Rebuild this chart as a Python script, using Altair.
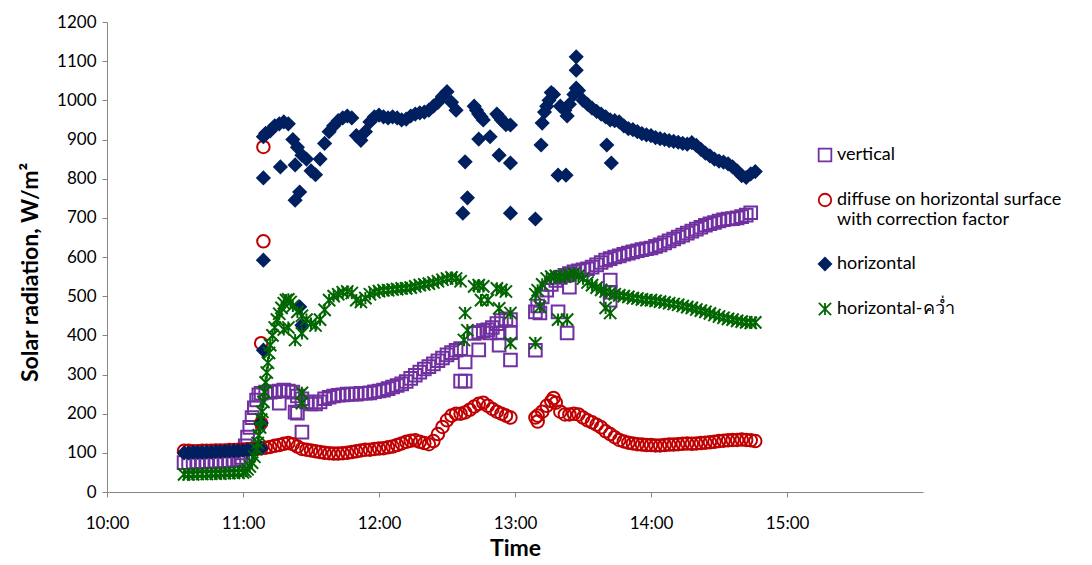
import altair as alt
import pandas as pd

SERIES = ["vertical",
          "diffuse on horizontal surface with correction factor",
          "horizontal",
          "horizontal-คว่ำ"]
COLORS = ["#7030A0", "#C00000", "#002060", "#006600"]
FILLS = ["transparent", "transparent", "#002060", "transparent"]
STAR = "M-1,-1L1,1M-1,1L1,-1M0,-1L0,1"
SHAPES = ["square", "circle", "diamond", STAR]
SIZES = [160, 150, 210, 140]

X_TICKS = [0, 60, 120, 180, 240, 300]          # minutes after 10:00
Y_TICKS = [0, 100, 200, 300, 400, 500, 600, 700, 800, 900, 1000, 1100, 1200]

# ---- vertical (minutes after 10:00, W/m2)
vert_min = (list(range(34, 59, 2)) + list(range(59, 69)) + list(range(70, 157, 2))
            + list(range(162, 179, 2)) + [189, 190] + list(range(192, 285, 2)))
vert_val = [75, 75, 76, 76, 77, 77, 78, 78, 79, 79, 80, 81, 83,
            88, 100, 118, 140, 165, 190, 215, 235, 248, 252,
            255, 255, 256, 258, 260, 258, 255, 245, 238, 230,
            225, 225, 230, 238, 242, 245, 247, 248, 250, 250,
            250, 252, 252, 253, 256, 258, 260, 264, 268, 272,
            276, 282, 290, 298, 306, 314, 320, 327, 335, 342,
            350, 356, 362, 366,
            405, 408, 412, 414, 420, 430, 438, 442, 440,
            460, 475,
            498, 515, 530, 540, 548, 553, 558, 562, 565, 567,
            570, 574, 580, 586, 592, 596, 600, 603, 607, 610,
            613, 616, 619, 621, 623, 627, 631, 636, 641, 646,
            651, 656, 661, 666, 671, 676, 681, 685, 688, 692,
            695, 697, 698, 700, 703, 707, 713]
vert_out_min = [76, 83, 84, 86, 156, 158, 158, 164, 169, 173, 173, 178, 178,
                189, 191, 199, 203, 204, 222, 222, 222]
vert_out_val = [227, 204, 201, 153, 283, 283, 332, 363, 406, 375, 406, 406, 337,
                362, 457, 460, 406, 523, 541, 490, 510]

# ---- diffuse on horizontal surface with correction factor
diff_min = (list(range(34, 67, 2)) + list(range(68, 179, 2)) + [189, 190]
            + list(range(192, 287, 2)))
diff_val = [105, 105, 104, 104, 105, 105, 105, 106, 106, 106, 107, 107, 108, 108, 109, 110, 110,
            112, 113, 115, 118, 120, 123, 125, 122, 116, 110,
            108, 106, 104, 102, 100, 99, 98, 98, 99, 100,
            102, 104, 106, 108, 108, 110, 111, 112, 114, 116,
            120, 124, 128, 131, 132, 128, 125, 122, 130, 148,
            166, 183, 195, 200, 200, 203, 210, 218, 225, 228,
            220, 212, 205, 200, 195, 190,
            190, 195,
            205, 220, 232, 228, 205, 198, 198, 200, 198, 190,
            183, 178, 172, 165, 155, 148, 140, 133, 129, 126,
            124, 122, 121, 120, 120, 119, 119, 120, 121, 121,
            122, 123, 124, 123, 124, 125, 126, 127, 128, 130,
            131, 132, 133, 133, 134, 133, 132, 130]
diff_out_min = [68, 68, 69, 69, 197, 190]
diff_out_val = [176, 380, 640, 881, 240, 180]

# ---- horizontal
hor_min = (list(range(34, 69, 2)) + list(range(70, 155, 2))
           + [162, 163, 164, 165, 166, 172, 173, 174, 175, 176]
           + [189, 191.5, 192, 193, 194, 195, 196, 197, 199, 200, 202, 202.5, 203, 204,
              206, 207, 207, 207, 208]
           + list(range(210, 287, 2)))
hor_val = [100, 100, 101, 101, 101, 102, 102, 103, 103, 104, 104, 105, 105, 106, 107, 108, 110, 112,
           916, 922, 935, 940, 945, 940, 900, 880, 860, 850,
           820, 810, 850, 890, 920, 935, 948, 955, 960, 955,
           910, 898, 920, 945, 958, 962, 958, 955, 958, 955,
           950, 952, 960, 965, 968, 970, 975, 985, 995, 1010,
           1022, 995, 975,
           985, 975, 965, 958, 950, 965, 958, 950, 945, 938,
           697, 886, 942, 970, 985, 1000, 1020, 1015, 809, 985, 975, 809, 960, 990,
           1015, 1031, 1077, 1111, 1025,
           1000, 990, 980, 972, 965, 958, 950, 948, 945, 935,
           928, 925, 920, 915, 912, 910, 905, 902, 900, 897,
           895, 893, 890, 888, 892, 885, 875, 865, 858, 850,
           845, 842, 838, 830, 820, 808, 803, 812, 818]
hor_out_min = [68, 69, 69, 69, 69, 76.5, 83, 83, 85, 85, 86,
               157, 158, 159, 164, 169, 173, 178, 178, 178, 220.5, 222.5]
hor_out_val = [176, 362, 592, 802, 907, 830, 835, 745, 766, 473, 426,
               712, 843, 751, 901, 907, 860, 840, 712, 937, 886, 840]

# ---- horizontal-คว่ำ
inv_min = (list(range(34, 61, 2))
           + [61, 62, 63, 64, 65, 66, 66.5, 67, 67.5, 68, 68.5, 69, 69.5, 70, 70.5, 71, 71.5,
              72, 73, 74, 75, 76, 77, 78, 79, 80, 81, 82]
           + list(range(84, 157, 2))
           + [162, 164, 166, 172, 174, 176]
           + [189, 190] + list(range(192, 287, 2)))
inv_val = [45, 45, 45, 46, 46, 46, 47, 47, 47, 48, 48, 49, 49, 50,
           53, 58, 65, 75, 90, 110, 125, 145, 165, 185, 205, 230, 255, 280, 305, 330, 355,
           375, 400, 420, 440, 455, 470, 482, 490, 492, 485, 475,
           460, 450, 440, 430, 425, 440, 465, 490, 500, 505,
           510, 512, 508, 490, 485, 495, 505, 510, 513, 515,
           515, 517, 518, 520, 520, 522, 525, 528, 530, 532,
           535, 538, 542, 545, 548, 545, 538,
           525, 528, 525, 520, 516, 512,
           505, 515,
           530, 545, 550, 552, 548, 550, 555, 558, 552, 545,
           535, 528, 522, 516, 512, 508, 505, 502, 500, 498,
           495, 494, 492, 490, 490, 488, 486, 484, 482, 480,
           478, 475, 472, 470, 466, 463, 460, 456, 452, 448,
           445, 442, 440, 437, 435, 433, 432, 433]
inv_out_min = [78, 80, 83, 86, 86, 86, 157.5, 158, 159, 165, 168, 173, 178, 178,
               189, 191, 199, 203, 220, 222]
inv_out_val = [415, 420, 388, 405, 253, 227, 388, 457, 413, 490, 490, 469, 457, 380,
               380, 473, 440, 440, 470, 457]

rows = []
for name, mins, vals in [
    (SERIES[0], vert_min + vert_out_min, vert_val + vert_out_val),
    (SERIES[1], diff_min + diff_out_min, diff_val + diff_out_val),
    (SERIES[2], hor_min + hor_out_min, hor_val + hor_out_val),
    (SERIES[3], inv_min + inv_out_min, inv_val + inv_out_val),
]:
    for m, v in zip(mins, vals):
        rows.append({"series": name, "minute": m, "value": v})
df = pd.DataFrame(rows)

FONT = "Lato, sans-serif"

leg = alt.Legend(
    title=None, orient="none", legendX=709, legendY=124,
    labelFont=FONT, labelFontSize=18, labelColor="#000000", labelLimit=400,
    rowPadding=25, symbolStrokeWidth=1.8, labelOffset=3,
    labelExpr="datum.label == 'diffuse on horizontal surface with correction factor' ? "
              "['diffuse on horizontal surface', 'with correction factor'] : datum.label",
)

scale_color = alt.Scale(domain=SERIES, range=COLORS)

chart = alt.Chart(df).mark_point(filled=False, strokeWidth=2, opacity=1).encode(
    x=alt.X("minute:Q",
            scale=alt.Scale(domain=[0, 360], nice=False, zero=False),
            axis=alt.Axis(values=X_TICKS, title="Time", grid=False, labelFlush=False,
                          labelExpr="(10 + floor(datum.value / 60)) + ':00'")),
    y=alt.Y("value:Q",
            scale=alt.Scale(domain=[0, 1200], nice=False),
            axis=alt.Axis(values=Y_TICKS, title="Solar  radiation, W/m²", grid=False,
                          format="d", labelFlush=False, titleY=250)),
    color=alt.Color("series:N", scale=scale_color, legend=leg),
    fill=alt.Fill("series:N", scale=alt.Scale(domain=SERIES, range=FILLS), legend=leg),
    shape=alt.Shape("series:N", scale=alt.Scale(domain=SERIES, range=SHAPES), legend=leg),
    size=alt.Size("series:N", scale=alt.Scale(domain=SERIES, range=SIZES), legend=leg),
).properties(
    width=816, height=470,
    padding={"left": 11, "top": 5, "right": 2, "bottom": 2},
).configure_view(
    stroke=None
).configure_axis(
    domainColor="#868686", tickColor="#868686", tickSize=5,
    labelFont=FONT, labelFontSize=17, labelColor="#000000",
    titleFont=FONT, titleFontSize=23, titleFontWeight="bold", titleColor="#000000",
).configure_axisY(
    labelPadding=6, titlePadding=14
).configure_axisX(
    labelPadding=18, titlePadding=6
)

chart.save("out.html", embed_options={"renderer": "svg", "actions": False})
